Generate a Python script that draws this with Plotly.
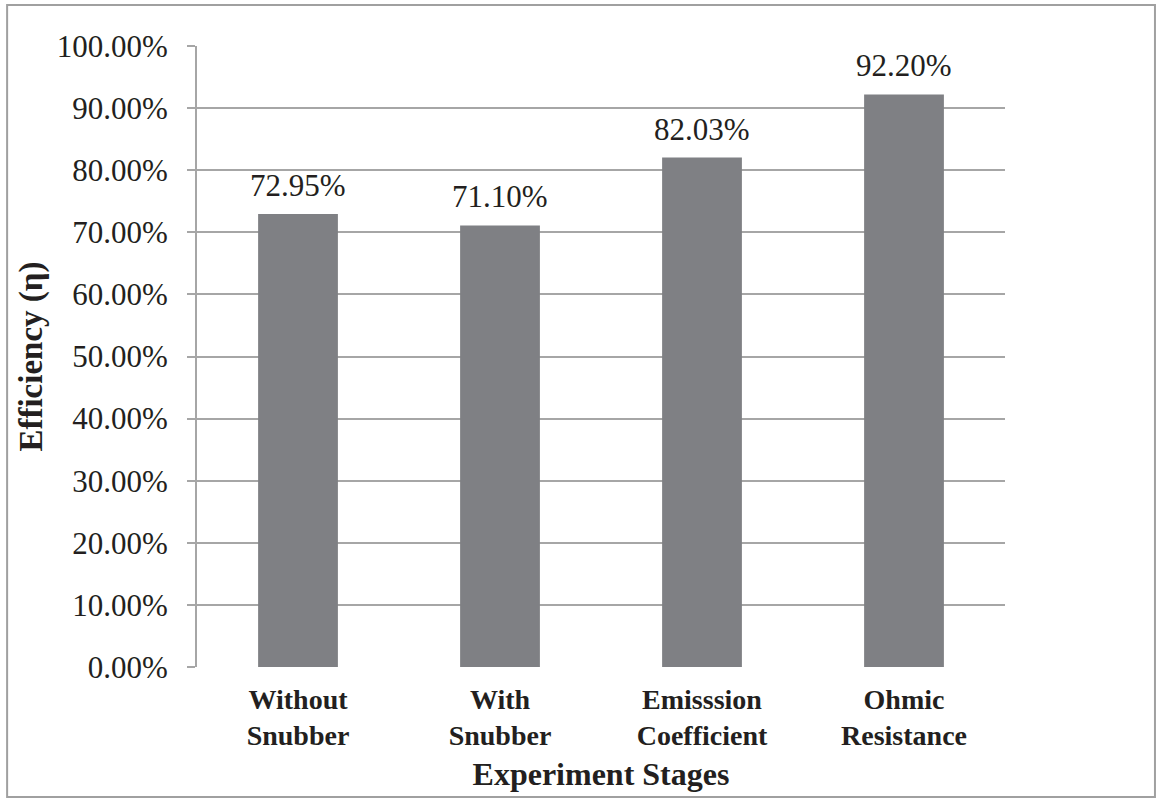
import plotly.graph_objects as go

# Efficiency measured at each experiment stage
stages = ["Without<br>Snubber", "With<br>Snubber", "Emisssion<br>Coefficient", "Ohmic<br>Resistance"]
efficiency = [0.7295, 0.7110, 0.8203, 0.9220]

bar_color = "#7f8084"
grid_color = "#a6a6a6"
text_color = "#231f20"
serif = "Liberation Serif"

fig = go.Figure(
    go.Bar(
        x=stages,
        y=efficiency,
        marker=dict(color=bar_color, line=dict(width=0)),
        width=0.395,
        hoverinfo="skip",
    )
)

# Value labels above each bar
for stage, value in zip(stages, efficiency):
    fig.add_annotation(
        x=stage, y=value, text=f"{value:.2%}",
        showarrow=False, yanchor="bottom", yshift=9,
        font=dict(family=serif, size=31, color=text_color),
    )

fig.update_layout(
    width=1158,
    height=799,
    margin=dict(l=197, r=153, t=46, b=132),
    paper_bgcolor="white",
    plot_bgcolor="white",
    showlegend=False,
    font=dict(family=serif, color=text_color),
    shapes=[
        dict(
            type="rect", xref="paper", yref="paper",
            x0=-0.235, x1=1.1856, y0=-0.2093, y1=1.066,
            line=dict(color="#a0a0a0", width=2),
            layer="below",
        )
    ],
)

fig.update_yaxes(
    automargin=False,
    range=[0, 1],
    dtick=0.1,
    tickformat=".2%",
    showgrid=True,
    gridcolor=grid_color,
    gridwidth=2,
    zeroline=False,
    showline=True,
    linecolor=grid_color,
    linewidth=2,
    ticks="outside",
    ticklen=8,
    tickwidth=2,
    tickcolor=grid_color,
    ticklabelstandoff=13,
    tickfont=dict(family=serif, size=31, color=text_color),
    title=dict(
        text="<b>Efficiency (η)</b>",
        font=dict(family=serif, size=33, color=text_color),
        standoff=4,
    ),
)

fig.update_xaxes(
    automargin=False,
    showgrid=False,
    showline=False,
    ticks="",
    tickfont=dict(family=serif, size=28, color=text_color),
    tickprefix="<b>",
    ticksuffix="</b>",
    ticklabelstandoff=13,
    title=dict(
        text="<b>Experiment Stages</b>",
        font=dict(family=serif, size=32, color=text_color),
        standoff=12,
    ),
)

fig.write_html("out.html")
